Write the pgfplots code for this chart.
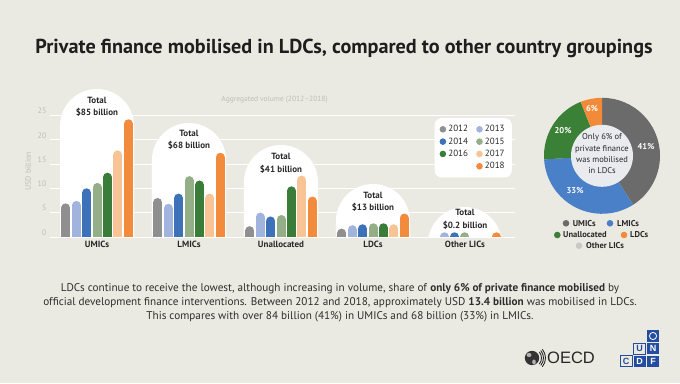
\documentclass[border=0pt]{standalone}
\usepackage{pgfplots}
\pgfplotsset{compat=1.18}
\usepackage{fontspec}
\setmainfont{PT Sans}
\newfontfamily\logofont{Liberation Sans}

\definecolor{bg}{RGB}{235,234,226}
\definecolor{titlec}{RGB}{30,30,30}
\definecolor{labc}{RGB}{40,40,40}
\definecolor{bodyc}{RGB}{45,45,45}
\definecolor{tickc}{RGB}{190,190,182}
\definecolor{c2012}{RGB}{143,143,143}
\definecolor{c2013}{RGB}{160,180,221}
\definecolor{c2014}{RGB}{62,114,184}
\definecolor{c2015}{RGB}{148,174,136}
\definecolor{c2016}{RGB}{58,125,58}
\definecolor{c2017}{RGB}{248,196,150}
\definecolor{c2018}{RGB}{242,140,60}
\definecolor{dU}{RGB}{107,107,107}
\definecolor{dL}{RGB}{74,128,199}
\definecolor{dA}{RGB}{59,128,55}
\definecolor{dD}{RGB}{241,139,58}
\definecolor{dO}{RGB}{200,200,200}
\definecolor{dIn}{RGB}{233,235,238}
\definecolor{unblue}{RGB}{35,77,160}

\pgfplotsset{
  yr/.style n args={2}{ycomb, color=#1, line width=9pt, line cap=round, mark=none,
    x filter/.expression={x+#2},
    legend image code/.code={\path[fill=#1, draw=none, line width=0pt] (0pt,0pt) circle (3.3pt);}},
}

\begin{document}
\begin{tikzpicture}[
  tot/.style={font=\fontsize{9}{12.5}\selectfont\bfseries, align=center, inner sep=0pt, text=labc, anchor=north},
  body/.style={font=\fontsize{11.2}{13}\selectfont, text=bodyc, anchor=base, inner sep=0pt},
  dleg/.style={font=\fontsize{8.5}{10}\selectfont\bfseries, text=labc, anchor=west, inner sep=0pt}]
\fill[bg] (0pt,0pt) rectangle (680pt,383pt);

% title
\node[font=\fontsize{20.2}{24}\selectfont\bfseries, text=titlec, anchor=base, inner sep=0pt] at (344pt,329.8pt)
  {Private finance mobilised in LDCs, compared to other country groupings};

% ---------------- bar chart ----------------
\begin{axis}[
  at={(50pt,146pt)}, anchor=south west, scale only axis,
  width=465pt, height=131.22pt,
  xmin=-0.5109, xmax=4.5435, ymin=0, ymax=27,
  clip mode=individual,
  axis line style={draw=none}, major tick length=0pt,
  ytick={0,5,...,25}, ymajorgrids, grid style={white, line width=0.9pt},
  xtick={0,...,4}, xticklabels={UMICs,LMICs,Unallocated,LDCs,Other LICs},
  xticklabel style={font=\fontsize{9}{10}\selectfont\bfseries, text=labc, yshift=-1pt},
  yticklabel style={font=\fontsize{8}{9}\selectfont, text=tickc, yshift=4.5pt},
  /pgf/number format/assume math mode=true,
  ylabel={USD billion}, ylabel style={font=\fontsize{8}{9}\selectfont, text=tickc},
  legend columns=2, legend cell align=left,
  legend style={at={(axis cs:4.511,24.49)}, anchor=north east, draw=none, fill=white,
    rounded corners=7pt, inner xsep=5pt, inner ysep=5pt,
    font=\fontsize{9}{10}\selectfont, text=labc,
    nodes={inner sep=2.2pt},
    /tikz/every even column/.append style={column sep=6pt}},
]
% white arches behind each group
\fill[white] (axis cs:-0.4022,0) -- (axis cs:-0.4022,22.84) arc[start angle=180,end angle=0,radius=37pt] -- (axis cs:0.4022,0) -- cycle;
\fill[white] (axis cs:0.5978,0) -- (axis cs:0.5978,15.84) arc[start angle=180,end angle=0,radius=37pt] -- (axis cs:1.4022,0) -- cycle;
\fill[white] (axis cs:1.5978,0) -- (axis cs:1.5978,11.32) arc[start angle=180,end angle=0,radius=37pt] -- (axis cs:2.4022,0) -- cycle;
\fill[white] (axis cs:2.5978,0) -- (axis cs:2.5978,3.29) arc[start angle=180,end angle=0,radius=37pt] -- (axis cs:3.4022,0) -- cycle;
\fill[white] (axis cs:4,0) ++(-36.33pt,0pt) arc[start angle=169.1,end angle=10.9,radius=37pt] -- cycle;

\node[tot] at (axis cs:0,28.87) {Total\\\$85 billion};
\node[tot] at (axis cs:1,22.08) {Total\\\$68 billion};
\node[tot] at (axis cs:2,17.20) {Total\\\$41 billion};
\node[tot] at (axis cs:3,9.32) {Total\\\$13 billion};
\node[tot] at (axis cs:4,5.68) {Total\\\$0.2 billion};
\node[font=\fontsize{7.5}{9}\selectfont, text=tickc] at (axis cs:1.93,28.19) {Aggregated volume (2012\textendash 2018)};

\addplot[yr={c2012}{-0.3391}] coordinates {(0,6.0) (1,7.1) (2,1.3) (3,0.8)};
\addlegendentry{2012}
\addplot[yr={c2013}{-0.2261}] coordinates {(0,6.5) (1,5.9) (2,4.1) (3,1.5) (4,0.05)};
\addlegendentry{2013}
\addplot[yr={c2014}{-0.1130}] coordinates {(0,9.1) (1,8.0) (2,3.3) (3,1.7) (4,0.05)};
\addlegendentry{2014}
\addplot[yr={c2015}{0}] coordinates {(0,10.2) (1,11.6) (2,3.6) (3,1.9) (4,0.05)};
\addlegendentry{2015}
\addplot[yr={c2016}{0.1130}] coordinates {(0,12.3) (1,10.7) (2,9.5) (3,1.9)};
\addlegendentry{2016}
\addplot[yr={c2017}{0.2261}] coordinates {(0,16.9) (1,8.0) (2,11.7) (3,1.7)};
\addlegendentry{2017}
\addlegendimage{empty legend}\addlegendentry{}
\addplot[yr={c2018}{0.3391}] coordinates {(0,23.3) (1,16.4) (2,7.4) (3,3.9) (4,0.05)};
\addlegendentry{2018}
\end{axis}

% ---------------- donut ----------------
\begin{axis}[at={(602pt,227.2pt)}, anchor=center, scale only axis, width=120pt, height=120pt,
  xmin=-60, xmax=60, ymin=-60, ymax=60, hide axis, clip=false]
% shares in percent: UMICs 41, LMICs 33, Unallocated 20, LDCs 6, Other LICs ~0
\fill[dU] (axis cs:0,0) -- (axis cs:0,58) arc[start angle=90, end angle={90-3.6*41}, radius=58pt] -- cycle;
\fill[dL] (axis cs:0,0) -- ++({90-3.6*41}:58pt) arc[start angle={90-3.6*41}, end angle={90-3.6*(41+33)}, radius=58pt] -- cycle;
\fill[dA] (axis cs:0,0) -- ++({90-3.6*74}:58pt) arc[start angle={90-3.6*74}, end angle={90-3.6*(74+20)}, radius=58pt] -- cycle;
\fill[dD] (axis cs:0,0) -- ++({90-3.6*94}:58pt) arc[start angle={90-3.6*94}, end angle={90-3.6*(94+6)}, radius=58pt] -- cycle;
\fill[dIn] (axis cs:0,0) circle[radius=31pt];
\node[font=\fontsize{8.5}{11.4}\selectfont, text=labc, align=center] at (axis cs:0,1.9)
  {Only 6\% of\\private finance\\was mobilised\\in LDCs};
\node[font=\fontsize{8.5}{10}\selectfont\bfseries, text=white] at (axis cs:44,9.1) {41\%};
\node[font=\fontsize{8.5}{10}\selectfont\bfseries, text=white] at (axis cs:-27,-35.2) {33\%};
\node[font=\fontsize{8.5}{10}\selectfont\bfseries, text=white] at (axis cs:-39,25.1) {20\%};
\node[font=\fontsize{8.5}{10}\selectfont\bfseries, text=white] at (axis cs:-10,46.8) {6\%};
\end{axis}

% donut legend
\fill[dU] (566pt,159.7pt) circle (3.3pt); \node[dleg] at (572.7pt,159.7pt) {UMICs};
\fill[dL] (610pt,159.7pt) circle (3.3pt); \node[dleg] at (617pt,159.7pt) {LMICs};
\fill[dA] (557.3pt,148pt) circle (3.3pt); \node[dleg] at (563pt,148pt) {Unallocated};
\fill[dD] (624pt,148pt) circle (3.3pt); \node[dleg] at (630pt,148pt) {LDCs};
\fill[dO] (579pt,137.3pt) circle (3.3pt); \node[dleg] at (586pt,137.3pt) {Other LICs};

% body text
\node[body] at (340pt,91.5pt) {LDCs continue to receive the lowest, although increasing in volume, share of \textbf{only 6\% of private finance mobilised} by};
\node[body] at (340pt,77.5pt) {official development finance interventions. Between 2012 and 2018, approximately USD \textbf{13.4 billion} was mobilised in LDCs.};
\node[body] at (340pt,63.5pt) {This compares with over 84 billion (41\%) in UMICs and 68 billion (33\%) in LMICs.};

% OECD logo
\fill[black!80] (532pt,25pt) circle (7.2pt);
\fill[white!70!black] (529pt,28pt) ellipse (2.5pt and 2pt);
\fill[white!70!black] (534pt,21pt) ellipse (1.8pt and 2.5pt);
\foreach \r in {9.5,11.5,13.5}{\draw[line width=0.9pt, black!85] (532pt,25pt) ++(-40:\r pt) arc[start angle=-40,end angle=40,radius=\r pt];}
\node[font=\logofont\fontsize{16.5}{18}\selectfont, text=black!85, anchor=west, inner sep=0pt] at (547pt,25pt) {OECD};

% UNCDF logo
\fill[unblue] (647pt,41.5pt) rectangle (659pt,52.5pt);
\draw[white, line width=0.8pt] (653pt,47pt) circle (3.6pt);
\draw[unblue, line width=0.8pt] (633.5pt,29pt) rectangle (645.5pt,40pt);
\node[font=\logofont\bfseries\fontsize{9}{10}\selectfont, text=unblue] at (639.5pt,34.5pt) {U};
\fill[unblue] (647pt,29pt) rectangle (659pt,40pt);
\node[font=\logofont\bfseries\fontsize{9}{10}\selectfont, text=white] at (653pt,34.5pt) {N};
\draw[unblue, line width=0.8pt] (620pt,16.5pt) rectangle (632pt,27.5pt);
\node[font=\logofont\bfseries\fontsize{9}{10}\selectfont, text=unblue] at (626pt,22pt) {C};
\fill[unblue] (633.5pt,16.5pt) rectangle (645.5pt,27.5pt);
\node[font=\logofont\bfseries\fontsize{9}{10}\selectfont, text=white] at (639.5pt,22pt) {D};
\fill[unblue] (647pt,16.5pt) rectangle (659pt,27.5pt);
\node[font=\logofont\bfseries\fontsize{9}{10}\selectfont, text=white] at (653pt,22pt) {F};
\end{tikzpicture}
\end{document}
